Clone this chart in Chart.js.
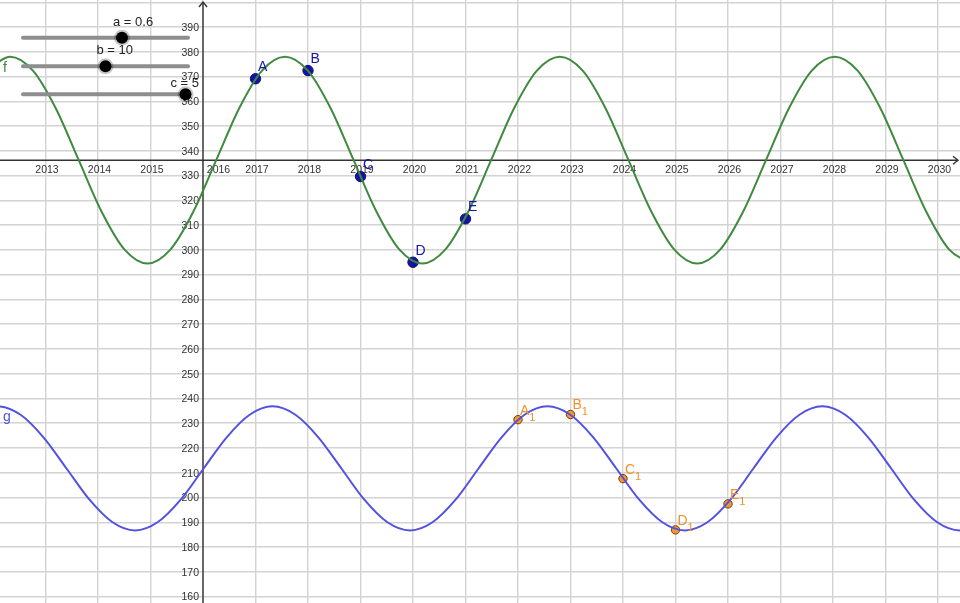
<!DOCTYPE html>
<html><head><meta charset="utf-8">
<script src="https://cdn.jsdelivr.net/npm/chart.js@4.4.1/dist/chart.umd.min.js"></script>
<style>html,body{margin:0;padding:0;background:#fff;overflow:hidden}#wrap{width:960px;height:603px;position:relative}canvas{display:block}</style>
</head><body><div id="wrap"><canvas id="c" width="960" height="603" style="width:960px;height:603px"></canvas></div>
<script>
// ---- data ----
const fYears = [2011.888,2012.324,2012.760,2013.197,2013.633,2014.069,2014.506,2014.942,2015.378,2015.815,2016.251,2016.687,2017.124,2017.560,2017.996,2018.433,2018.869,2019.305,2019.742,2020.178,2020.614,2021.051,2021.487,2021.923,2022.360,2022.796,2023.232,2023.669,2024.105,2024.541,2024.978,2025.414,2025.850,2026.287,2026.723,2027.159,2027.596,2028.032,2028.468,2028.905,2029.341,2029.777,2030.214,2030.650];
const fValues = [372.4,378.0,372.4,357.1,336.2,315.4,300.1,294.5,300.1,315.4,336.2,357.1,372.4,378.0,372.4,357.1,336.2,315.4,300.1,294.5,300.1,315.4,336.2,357.1,372.4,378.0,372.4,357.1,336.2,315.4,300.1,294.5,300.1,315.4,336.2,357.1,372.4,378.0,372.4,357.1,336.2,315.4,300.1,294.5];
const gYears = [2011.652,2012.088,2012.525,2012.961,2013.397,2013.834,2014.270,2014.706,2015.142,2015.579,2016.015,2016.451,2016.888,2017.324,2017.760,2018.197,2018.633,2019.069,2019.506,2019.942,2020.378,2020.815,2021.251,2021.687,2022.124,2022.560,2022.996,2023.433,2023.869,2024.305,2024.742,2025.178,2025.614,2026.051,2026.487,2026.923,2027.360,2027.796,2028.232,2028.669,2029.105,2029.541,2029.978,2030.414,2030.850];
const gValues = [233.4,236.8,233.4,224.3,211.8,199.2,190.1,186.7,190.1,199.2,211.8,224.3,233.4,236.8,233.4,224.3,211.8,199.2,190.1,186.7,190.1,199.2,211.8,224.3,233.4,236.8,233.4,224.3,211.8,199.2,190.1,186.7,190.1,199.2,211.8,224.3,233.4,236.8,233.4,224.3,211.8,199.2,190.1,186.7,190.1];
const pointNames = ['A','B','C','D','E'];
const pointYears = [2017,2018,2019,2020,2021];
const pointValues = [369.1,372.4,329.6,295.0,312.5];
const imageNames = ['A','B','C','D','E'];
const imageYears = [2022,2023,2024,2025,2026];
const imageValues = [231.4,233.5,207.6,186.9,197.4];
const xTickLabels = [2013,2014,2015,2016,2017,2018,2019,2020,2021,2022,2023,2024,2025,2026,2027,2028,2029,2030];
const yTickLabels = [160,170,180,190,200,210,220,230,240,250,260,270,280,290,300,310,320,330,340,350,360,370,380,390];
const sliderNames = ['a','b','c'];
const sliderValues = [0.6,10,5];
const sliderMins = [0,0,0];
const sliderMaxs = [1,20,5];

// ---- view window ----
const X_MIN = 2012.133, X_MAX = 2030.419, Y_MIN = 157.37, Y_MAX = 400.9;
const X_AXIS_AT = 336.2, Y_AXIS_AT = 2016;

const FONT = '"Liberation Sans", Arial, sans-serif';
const GREEN = '#3f8a3f', BLUE = '#5252e2', NAVY = '#1414a0', ORANGE = '#f7962a', ORANGE_TXT = '#f0922a';

const toXY = (xs, ys) => xs.map((x, i) => ({x, y: ys[i]}));

const geoPlugin = {
  id: 'geo',
  beforeDatasetsDraw(chart) {
    const {ctx, scales: {x, y}, chartArea: ca} = chart;
    const ax = x.getPixelForValue(Y_AXIS_AT), ay = y.getPixelForValue(X_AXIS_AT);
    ctx.save();
    ctx.strokeStyle = '#333'; ctx.lineWidth = 1.4;
    ctx.beginPath(); ctx.moveTo(ca.left, ay); ctx.lineTo(ca.right - 2, ay); ctx.stroke();
    ctx.beginPath(); ctx.moveTo(ax, ca.bottom); ctx.lineTo(ax, ca.top + 2); ctx.stroke();
    // arrows
    ctx.beginPath(); ctx.moveTo(ca.right - 7, ay - 4); ctx.lineTo(ca.right - 2, ay); ctx.lineTo(ca.right - 7, ay + 4); ctx.stroke();
    ctx.beginPath(); ctx.moveTo(ax - 4, ca.top + 7); ctx.lineTo(ax, ca.top + 2); ctx.lineTo(ax + 4, ca.top + 7); ctx.stroke();
    // tick labels
    ctx.fillStyle = '#333'; ctx.font = '10.5px ' + FONT;
    ctx.textAlign = 'center'; ctx.textBaseline = 'middle';
    xTickLabels.forEach(v => {
      let px = x.getPixelForValue(v) + 1.5;
      if (v === Y_AXIS_AT) px += 14;
      ctx.fillText(String(v), px, ay + 9.5);
    });
    ctx.textAlign = 'right';
    yTickLabels.forEach(v => {
      ctx.fillText(String(v), ax - 4, y.getPixelForValue(v) + 1);
    });
    ctx.restore();
  },
  afterDatasetsDraw(chart) {
    const {ctx, scales: {x, y}} = chart;
    ctx.save();
    ctx.textAlign = 'left'; ctx.textBaseline = 'alphabetic';
    ctx.font = '14px ' + FONT; ctx.fillStyle = NAVY;
    pointNames.forEach((n, i) => {
      const px = x.getPixelForValue(pointYears[i]), py = y.getPixelForValue(pointValues[i]);
      ctx.fillText(n, px + 2.5, py - 7.5);
    });
    ctx.fillStyle = ORANGE_TXT;
    imageNames.forEach((n, i) => {
      const px = x.getPixelForValue(imageYears[i]), py = y.getPixelForValue(imageValues[i]);
      ctx.font = '14px ' + FONT;
      ctx.fillText(n, px + 2, py - 5);
      const w = ctx.measureText(n).width;
      ctx.font = '11px ' + FONT;
      ctx.fillText('1', px + 2 + w, py + 1);
    });
    // function labels
    ctx.font = '14px ' + FONT;
    ctx.fillStyle = GREEN; ctx.fillText('f', 3, 72);
    ctx.fillStyle = BLUE; ctx.fillText('g', 3, 421);
    ctx.restore();
  },
  afterDraw(chart) {
    const {ctx} = chart;
    const lineX0 = 23, lineX1 = 188;
    const lineYs = [37.7, 66.3, 94.3];
    const labelDx = [-9, -9, -15];
    const labelDy = [-12, -12, -7.5];
    ctx.save();
    sliderNames.forEach((n, i) => {
      const ly = lineYs[i];
      ctx.strokeStyle = '#8e8e8e'; ctx.lineWidth = 4; ctx.lineCap = 'round';
      ctx.beginPath(); ctx.moveTo(lineX0, ly); ctx.lineTo(lineX1, ly); ctx.stroke();
      const frac = (sliderValues[i] - sliderMins[i]) / (sliderMaxs[i] - sliderMins[i]);
      const kx = lineX0 + frac * (lineX1 - lineX0) - (i === 2 ? 2.5 : 0);
      ctx.fillStyle = 'rgba(0,0,0,0.22)';
      ctx.beginPath(); ctx.arc(kx, ly, 8, 0, Math.PI * 2); ctx.fill();
      ctx.fillStyle = '#000';
      ctx.beginPath(); ctx.arc(kx, ly, 6, 0, Math.PI * 2); ctx.fill();
      ctx.font = '13px ' + FONT; ctx.fillStyle = '#222'; ctx.textAlign = 'left'; ctx.textBaseline = 'alphabetic';
      ctx.fillText(n + ' = ' + sliderValues[i], kx + labelDx[i], ly + labelDy[i]);
    });
    ctx.restore();
  }
};

const gridOpts = {color: '#d3d3d3', lineWidth: 1.4, drawTicks: false};

new Chart(document.getElementById('c'), {
  type: 'line',
  data: {
    datasets: [
      {label: 'f', data: toXY(fYears, fValues), borderColor: GREEN, borderWidth: 2, pointRadius: 0, cubicInterpolationMode: 'monotone', fill: false},
      {label: 'g', data: toXY(gYears, gValues), borderColor: BLUE, borderWidth: 2, pointRadius: 0, cubicInterpolationMode: 'monotone', fill: false},
      {label: 'points', data: toXY(pointYears, pointValues), showLine: false, pointRadius: 5.2, pointBackgroundColor: NAVY, pointBorderColor: '#10107a', pointBorderWidth: 1},
      {label: 'images', data: toXY(imageYears, imageValues), showLine: false, pointRadius: 4.2, pointBackgroundColor: ORANGE, pointBorderColor: '#6e3e0c', pointBorderWidth: 1}
    ]
  },
  options: {
    responsive: false, animation: false, devicePixelRatio: 1,
    layout: {padding: 0, autoPadding: false},
    plugins: {legend: {display: false}, tooltip: {enabled: false}},
    scales: {
      x: {type: 'linear', min: X_MIN, max: X_MAX, grid: gridOpts, border: {display: false},
          ticks: {display: false, stepSize: 1, includeBounds: false}},
      y: {type: 'linear', min: Y_MIN, max: Y_MAX, grid: gridOpts, border: {display: false},
          ticks: {display: false, stepSize: 10, includeBounds: false}}
    }
  },
  plugins: [geoPlugin]
});
</script>
</body></html>
